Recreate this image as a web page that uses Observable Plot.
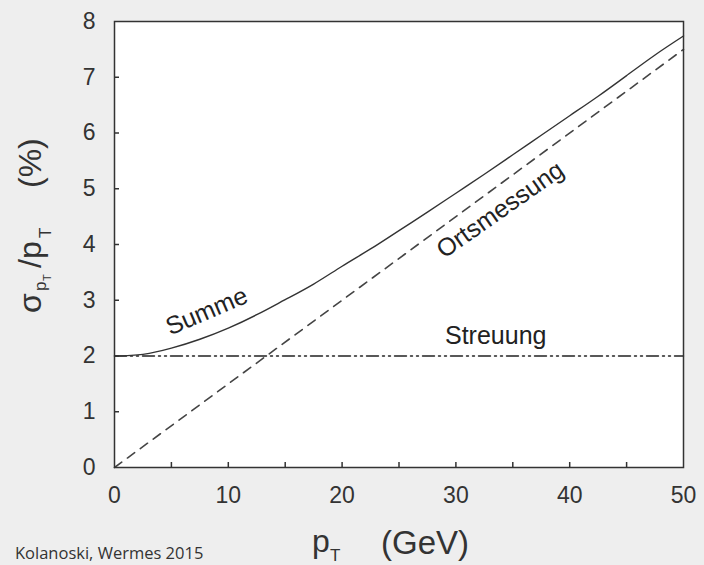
<!DOCTYPE html>
<html>
<head>
<meta charset="utf-8">
<script src="https://cdn.jsdelivr.net/npm/d3@7"></script>
<script src="https://cdn.jsdelivr.net/npm/@observablehq/plot@0.6"></script>
<style>
  html, body { margin: 0; padding: 0; background: #eeeeee; }
  #chart { width: 704px; height: 565px; }
</style>
</head>
<body>
<div id="chart"></div>
<script>
// Data
const pT = [0, 2.5, 5, 7.5, 10, 12.5, 15, 17.5, 20, 22.5, 25, 27.5, 30, 32.5, 35, 37.5, 40, 42.5, 45, 47.5, 50];
const summe = [2.00, 2.03, 2.14, 2.30, 2.50, 2.74, 3.01, 3.29, 3.61, 3.92, 4.25, 4.58, 4.92, 5.26, 5.61, 5.96, 6.31, 6.66, 7.03, 7.40, 7.74];
const ortsX = [0, 50];
const ortsY = [0, 7.5];
const streuX = [0, 50];
const streuY = [2, 2];
const xTickLabels = [0, 10, 20, 30, 40, 50];
const xTickMarks = [5, 10, 15, 20, 25, 30, 35, 40, 45];
const yTickLabels = [0, 1, 2, 3, 4, 5, 6, 7, 8];
const yTickMarks = [1, 2, 3, 4, 5, 6, 7];
const curveLabels = [
  {x: 8.1, y: 2.80, text: "Summe", rotate: -23},
  {x: 33.9, y: 4.62, text: "Ortsmessung", rotate: -35},
  {x: 33.5, y: 2.36, text: "Streuung", rotate: 0}
];

const summeData = pT.map((x, i) => ({x, y: summe[i]}));
const ortsData = ortsX.map((x, i) => ({x, y: ortsY[i]}));
const streuData = streuX.map((x, i) => ({x, y: streuY[i]}));

const ink = "#333333";
const font = "'Liberation Sans', Arial, sans-serif";

const chart = Plot.plot({
  width: 704,
  height: 565,
  marginLeft: 114,
  marginRight: 21,
  marginTop: 21,
  marginBottom: 98,
  style: {background: "transparent", fontFamily: font, overflow: "visible"},
  x: {domain: [0, 50]},
  y: {domain: [0, 8]},
  marks: [
    Plot.frame({fill: "white", stroke: null}),
    Plot.line(ortsData, {x: "x", y: "y", stroke: "#444", strokeWidth: 1.6, strokeDasharray: "9,7"}),
    Plot.line(streuData, {x: "x", y: "y", stroke: "#222", strokeWidth: 1.4, strokeDasharray: "12,4,2,4,2,4"}),
    Plot.line(summeData, {x: "x", y: "y", curve: "natural", stroke: "#333", strokeWidth: 1.4}),
    Plot.ruleX(xTickMarks, {x: d => d, insetTop: 441, stroke: ink, strokeWidth: 1.5}),
    Plot.ruleY(yTickMarks, {y: d => d, insetRight: 564, stroke: ink, strokeWidth: 1.5}),
    Plot.axisX(xTickLabels, {tickSize: 0, tickPadding: 19, fontSize: 23, fill: ink, label: null, tickFormat: d => String(d)}),
    Plot.axisY(yTickLabels, {tickSize: 0, tickPadding: 19, fontSize: 23, fill: ink, label: null, tickFormat: d => String(d)}),
    Plot.frame({stroke: ink, strokeWidth: 1.5}),
    Plot.text(curveLabels, {x: "x", y: "y", text: "text", rotate: "rotate", fontSize: 25, fill: "#222", textAnchor: "middle", lineAnchor: "middle"})
  ]
});

document.getElementById("chart").appendChild(chart);

const svg = d3.select(chart);
// x axis title: p_T (GeV)
const xt = svg.append("g").attr("fill", ink).attr("font-family", font).attr("text-anchor", "start");
xt.append("text").attr("x", 312).attr("y", 552).attr("font-size", 32).text("p");
xt.append("text").attr("x", 330).attr("y", 561).attr("font-size", 17).text("T");
xt.append("text").attr("x", 381).attr("y", 554).attr("font-size", 33).text("(GeV)");

// y axis title: σ_{p_T} / p_T   (%)
const yt = svg.append("g").attr("fill", ink).attr("font-family", font).attr("text-anchor", "start").attr("transform", "rotate(-90)");
// in rotated coords: screen x = ty, screen y = -tx
yt.append("text").attr("x", -313).attr("y", 41).attr("font-size", 32).text("σ");
yt.append("text").attr("x", -291).attr("y", 46).attr("font-size", 17).text("p");
yt.append("text").attr("x", -281).attr("y", 51).attr("font-size", 11).text("T");
yt.append("text").attr("x", -268).attr("y", 41).attr("font-size", 32).text("/p");
yt.append("text").attr("x", -238).attr("y", 51).attr("font-size", 17).text("T");
yt.append("text").attr("x", -188).attr("y", 41).attr("font-size", 32).text("(%)");

// caption
svg.append("text").attr("x", 15).attr("y", 559).attr("text-anchor", "start").attr("font-family", "'Open Sans', sans-serif")
  .attr("font-size", 16.5).attr("fill", ink).text("Kolanoski, Wermes 2015");
</script>
</body>
</html>
